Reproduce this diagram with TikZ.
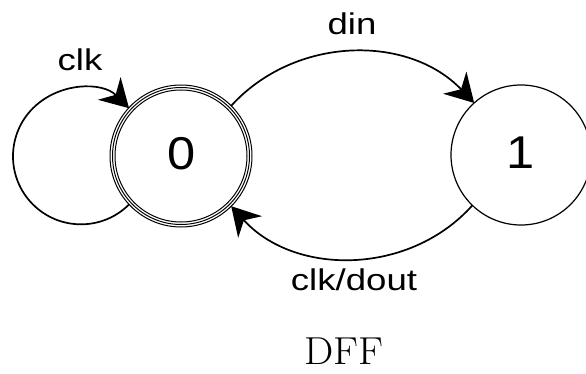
\documentclass[tikz,border=0pt]{standalone}
\usepackage{fontspec}
\newfontfamily\labfont{Liberation Sans}
\usetikzlibrary{arrows.meta}
\tikzset{
  state/.style={circle, draw, line width=1.2pt, outer sep=0pt, inner sep=0pt, minimum size=140pt},
  arr/.style={line width=1.7pt, -{Stealth[length=28pt, width=32pt, inset=9pt]}},
  lab/.style={inner sep=0pt, font=\labfont\fontsize{30}{36}\selectfont},
  ring/.style={line width=1pt}
}
\newcommand{\wide}[2]{\scalebox{#1}[1]{#2}}
\begin{document}
\begin{tikzpicture}[x=1pt,y=1pt]
\useasboundingbox (0,0) rectangle (586,-374);
\node[state, minimum size=142pt, line width=1pt] (n0) at (181,-156) {};
\draw[ring] (n0.center) circle[radius=68.5];
\draw[ring] (n0.center) circle[radius=66];
\node[font=\labfont\fontsize{46}{50}\selectfont, inner sep=0pt] (t0) at (182,-154) {\wide{1.1}{0}};
\node[state] (n1) at (521,-155) {};
\node[font=\labfont\fontsize{46}{50}\selectfont, inner sep=0pt] (t1) at (521,-153) {\wide{1.1}{1}};
\draw[arr] (n0.223) arc[start angle=-45, end angle=-315, radius=68];
\draw[arr] (n0.45) to[bend left=47] (n1.132);
\draw[arr] (n1.226) to[bend left=48] (n0.-45);
\node[lab] (lclk) at (80,-60) {\wide{1.22}{clk}};
\node[lab] (ldin) at (352,-24) {\wide{1.22}{din}};
\node[lab] (lout) at (354,-280) {\wide{1.22}{clk/dout}};
\node[inner sep=0pt, font=\fontsize{39}{44}\selectfont] (cap) at (343.5,-351.5) {\wide{1.06}{DFF}};
\end{tikzpicture}
\end{document}
